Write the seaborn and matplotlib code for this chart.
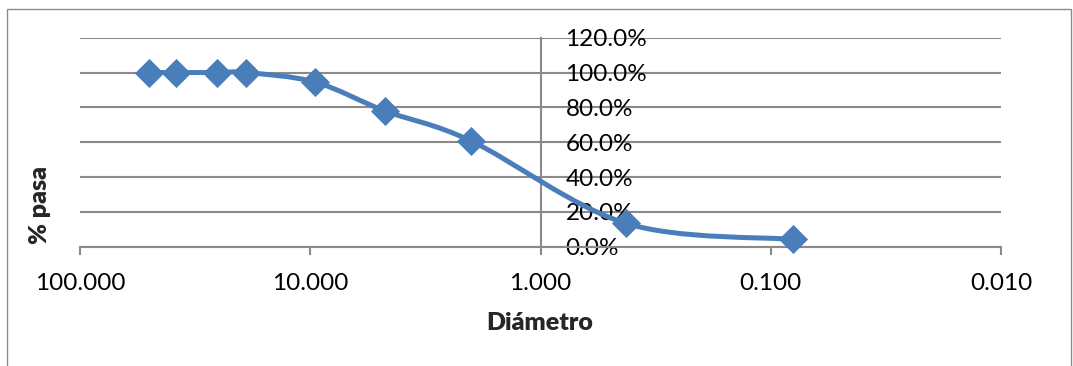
import numpy as np
import pandas as pd
import matplotlib
matplotlib.use("Agg")
import matplotlib.pyplot as plt
import seaborn as sns
from matplotlib.path import Path
from matplotlib.patches import PathPatch, Rectangle
from matplotlib.ticker import FixedLocator, FuncFormatter, NullLocator

# Grain-size distribution (sieve analysis)
diametro = [50.0, 38.1, 25.4, 19.05, 9.525, 4.75, 2.0, 0.425, 0.08]
pasa = [1.000, 1.000, 1.000, 1.000, 0.945, 0.780, 0.607, 0.134, 0.042]
x_ticks = [100, 10, 1, 0.1, 0.01]
y_ticks = [0.0, 0.2, 0.4, 0.6, 0.8, 1.0, 1.2]

df = pd.DataFrame({"Diámetro": diametro, "% pasa": pasa})

sns.set_theme(style="white")
plt.rcParams["font.family"] = ["Lato", "DejaVu Sans"]

W, H = 1073, 366
fig = plt.figure(figsize=(W / 100, H / 100), dpi=100)
ax = fig.add_axes([80 / W, 1 - 246.7 / H, (1001 - 80) / W, (246.7 - 37.7) / H])

# outer chart frame
fig.patches.append(Rectangle((7 / W, -0.05), (1071 - 7) / W, 1.05 - 9 / H,
                             transform=fig.transFigure, fill=False,
                             edgecolor="#8c8c8c", linewidth=1.0))

ax.set_xscale("log")
ax.set_xlim(100, 0.01)
ax.set_ylim(0, 1.2)

grid_c = "#8a8a8a"
for s in ["top", "left"]:
    ax.spines[s].set_visible(False)
ax.spines["bottom"].set_color(grid_c)
ax.spines["bottom"].set_linewidth(1.5)
ax.spines["right"].set_position(("data", 1))
ax.spines["right"].set_color(grid_c)
ax.spines["right"].set_linewidth(1.5)

ax.xaxis.set_major_locator(FixedLocator(x_ticks))
ax.xaxis.set_minor_locator(NullLocator())
ax.xaxis.set_major_formatter(FuncFormatter(lambda v, p: f"{v:.3f}"))
ax.tick_params(axis="x", direction="out", length=6, width=1.5, color=grid_c,
               bottom=True, labelsize=17.5, pad=13, labelcolor="black")

ax.yaxis.tick_right()
ax.yaxis.set_major_locator(FixedLocator(y_ticks))
ax.yaxis.set_major_formatter(FuncFormatter(lambda v, p: f"{v * 100:.1f}%"))
ax.tick_params(axis="y", length=0, labelsize=17.5, pad=18, labelcolor="black")
for lbl in ax.get_yticklabels():
    lbl.set_horizontalalignment("left")

ax.yaxis.grid(True, color=grid_c, linewidth=1.5)
ax.xaxis.grid(False)
ax.set_axisbelow(True)

# smoothed connecting line (Catmull-Rom Bezier in display space)
line_c = "#4a7ebb"
pts = ax.transData.transform(np.column_stack([diametro, pasa]))
ext = np.vstack([pts[0], pts, pts[-1]])
verts = [pts[0]]
codes = [Path.MOVETO]
for i in range(len(pts) - 1):
    p0, p1, p2, p3 = ext[i], ext[i + 1], ext[i + 2], ext[i + 3]
    c1 = p1 + (p2 - p0) / 6
    c2 = p2 - (p3 - p1) / 6
    verts += [c1, c2, p2]
    codes += [Path.CURVE4] * 3
ax.add_patch(PathPatch(Path(verts, codes), transform=None, fill=False,
                       edgecolor=line_c, linewidth=3.6, capstyle="round",
                       joinstyle="round", zorder=3))

sns.scatterplot(data=df, x="Diámetro", y="% pasa", marker="D", s=220,
                color=line_c, edgecolor=line_c, linewidth=0, ax=ax,
                zorder=4, clip_on=False)

ax.set_xlabel("")
ax.set_ylabel("")
fig.text(540 / W, 1 - 323 / H, "Diámetro", ha="center", va="center",
         fontsize=18, fontweight="heavy")
fig.text(40 / W, 1 - 205 / H, "% pasa", ha="center", va="center",
         rotation=90, fontsize=18, fontweight="heavy")

fig.savefig("out.png", dpi=100)
